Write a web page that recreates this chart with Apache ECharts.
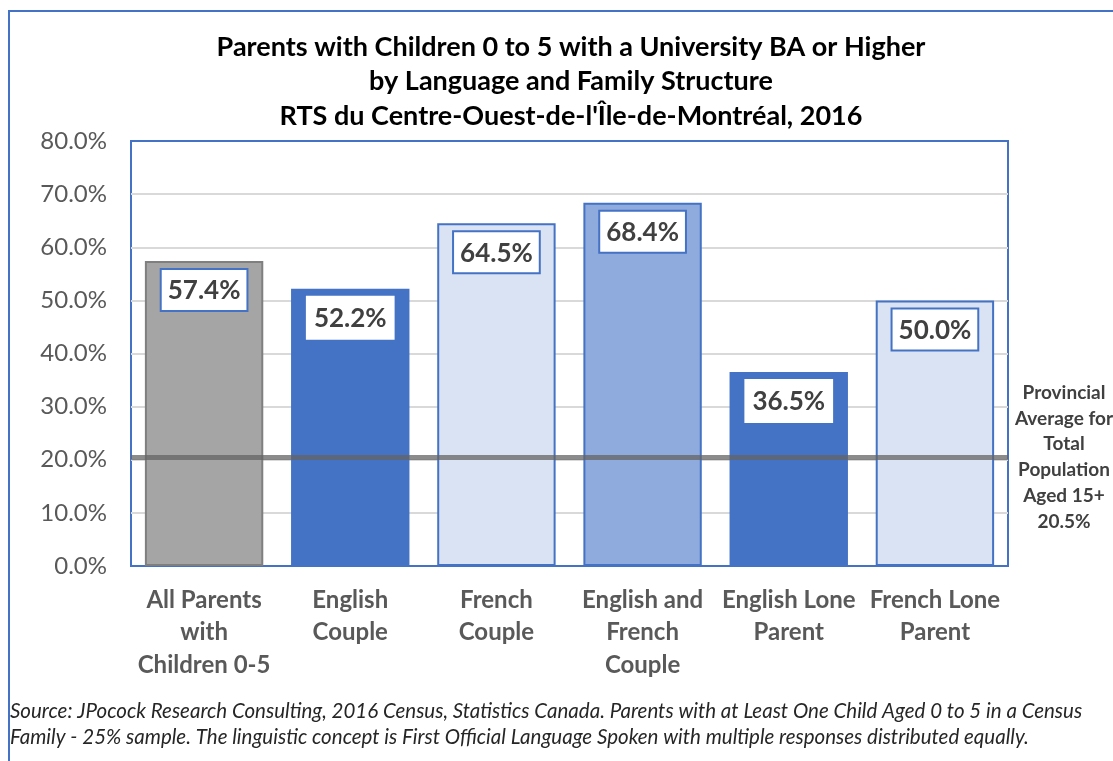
<!DOCTYPE html>
<html>
<head>
<meta charset="utf-8">
<script src="https://cdn.jsdelivr.net/npm/echarts@6/dist/echarts.min.js"></script>
<style>
  html, body { margin: 0; padding: 0; background: #fff; }
  #chart { width: 1113px; height: 761px; }
</style>
</head>
<body>
<div id="chart"></div>
<script>
// data
const categories = [
  'All Parents\nwith\nChildren 0-5',
  'English\nCouple',
  'French\nCouple',
  'English and\nFrench\nCouple',
  'English Lone\nParent',
  'French Lone\nParent'
]
const shares = [57.4, 52.2, 64.5, 68.4, 36.5, 50.0]
const provincialAvg = 20.5
const yTicks = { min: 0, max: 80, interval: 10 }

const titleText = 'Parents with Children 0 to 5 with a University BA or Higher\nby Language and Family Structure\nRTS du Centre-Ouest-de-l\'Île-de-Montréal, 2016'
const avgLabel = 'Provincial\nAverage for\nTotal\nPopulation\nAged 15+\n20.5%'
const sourceText = 'Source: JPocock Research Consulting, 2016 Census, Statistics Canada. Parents with at Least One Child Aged 0 to 5 in a Census\nFamily - 25% sample. The linguistic concept is First Official Language Spoken with multiple responses distributed equally.'

// per-bar look
const fills = ['#A5A5A5', '#4472C4', '#DAE3F3', '#8FAADC', '#4472C4', '#DAE3F3']
const edges = ['#7F7F7F', '#4472C4', '#4472C4', '#4472C4', '#4472C4', '#4472C4']
const boxEdges = ['#4472C4', '#FFFFFF', '#4472C4', '#4472C4', '#FFFFFF', '#4472C4']

const font = 'Lato, "Noto Sans", sans-serif'

const chart = echarts.init(document.getElementById('chart'))

chart.setOption({
  animation: false,
  textStyle: { fontFamily: font },
  title: {
    text: titleText,
    left: 566,
    textAlign: 'center',
    top: 25,
    textStyle: {
      fontSize: 27,
      fontWeight: 'bold',
      color: '#000',
      lineHeight: 34.5,
      fontFamily: font
    }
  },
  grid: {
    left: 131,
    right: 105,
    top: 141,
    bottom: 195,
    show: true,
    borderColor: '#4472C4',
    borderWidth: 2,
    backgroundColor: 'transparent'
  },
  xAxis: {
    type: 'category',
    data: categories,
    axisLine: { show: false },
    axisTick: { show: false },
    axisLabel: {
      interval: 0,
      margin: 18,
      fontSize: 24,
      fontWeight: 'bold',
      color: '#595959',
      lineHeight: 32.5,
      fontFamily: font
    }
  },
  yAxis: {
    type: 'value',
    min: yTicks.min,
    max: yTicks.max,
    interval: yTicks.interval,
    axisLine: { show: false },
    axisTick: { show: false },
    splitLine: {
      showMinLine: false,
      showMaxLine: false,
      lineStyle: { color: '#D9D9D9', width: 2 }
    },
    axisLabel: {
      fontSize: 24,
      color: '#595959',
      margin: 24,
      fontFamily: font,
      formatter: v => v.toFixed(1) + '%'
    }
  },
  series: [{
    type: 'bar',
    barWidth: '81%',
    data: shares.map((v, i) => ({
      value: v,
      itemStyle: {
        color: fills[i],
        borderColor: edges[i],
        borderWidth: i === 1 || i === 4 ? 0 : 2
      },
      label: { borderColor: boxEdges[i] }
    })),
    label: {
      show: true,
      position: 'insideTop',
      distance: 9,
      formatter: p => p.value.toFixed(1) + '%',
      fontSize: 26,
      fontWeight: 'bold',
      color: '#404040',
      backgroundColor: '#FFFFFF',
      borderWidth: 2,
      padding: [8, 6, 6, 6],
      fontFamily: font
    },
    markLine: {
      silent: true,
      symbol: 'none',
      data: [{ yAxis: provincialAvg }],
      lineStyle: { color: 'rgba(100,100,100,0.75)', width: 5, type: 'solid' },
      label: {
        show: true,
        position: 'end',
        distance: 56,
        align: 'center',
        formatter: avgLabel,
        fontSize: 19,
        fontWeight: 'bold',
        color: '#404040',
        lineHeight: 25.8,
        fontFamily: font
      }
    }
  }],
  graphic: [
    {
      type: 'rect',
      left: 8,
      top: 10,
      shape: { width: 1200, height: 800 },
      style: { fill: 'transparent', stroke: '#4472C4', lineWidth: 2 },
      silent: true
    },
    {
      type: 'text',
      left: 10,
      top: 698,
      style: {
        text: sourceText,
        fill: '#262626',
        lineHeight: 26,
        font: 'italic 20.5px Lato, sans-serif'
      }
    }
  ]
})
</script>
</body>
</html>
